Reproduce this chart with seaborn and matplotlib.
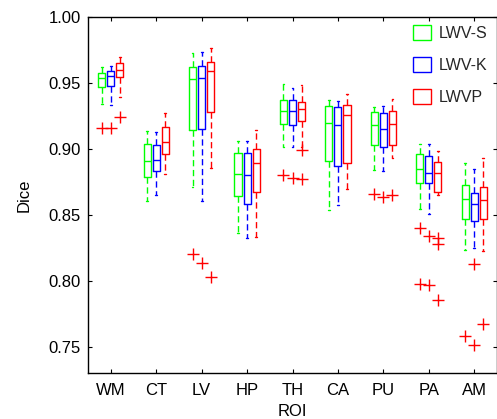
import numpy as np
import pandas as pd
import matplotlib
matplotlib.use("Agg")
import matplotlib.pyplot as plt
from matplotlib.patches import Patch
import seaborn as sns

rois = ["WM", "CT", "LV", "HP", "TH", "CA", "PU", "PA", "AM"]
methods = ["LWV-S", "LWV-K", "LWVP"]
colors = {"LWV-S": "#00ff00", "LWV-K": "#0000ff", "LWVP": "#ff0000"}

# Box summaries (whisker low, Q1, median, Q3, whisker high)
s_whislo = [0.9340, 0.8605, 0.8714, 0.8365, 0.9017, 0.8539, 0.8842, 0.8545, 0.8236]
s_q1     = [0.9470, 0.8792, 0.9146, 0.8645, 0.9191, 0.8911, 0.9032, 0.8742, 0.8471]
s_med    = [0.9542, 0.8908, 0.9530, 0.8812, 0.9292, 0.9196, 0.9184, 0.8852, 0.8620]
s_q3     = [0.9580, 0.9037, 0.9620, 0.8974, 0.9375, 0.9330, 0.9282, 0.8961, 0.8731]
s_whishi = [0.9626, 0.9138, 0.9732, 0.9060, 0.9492, 0.9375, 0.9322, 0.9042, 0.8898]
s_out = {"WM": [0.9159], "LV": [0.8208], "TH": [0.8805], "PU": [0.8658],
         "PA": [0.8405, 0.7980], "AM": [0.7584]}

k_whislo = [0.9335, 0.8650, 0.8605, 0.8327, 0.9017, 0.8580, 0.8835, 0.8509, 0.8251]
k_q1     = [0.9480, 0.8835, 0.9150, 0.8583, 0.9181, 0.8873, 0.9019, 0.8742, 0.8454]
k_med    = [0.9555, 0.8916, 0.9542, 0.8805, 0.9292, 0.9186, 0.9151, 0.8822, 0.8585]
k_q3     = [0.9590, 0.9030, 0.9631, 0.8971, 0.9375, 0.9318, 0.9275, 0.8949, 0.8668]
k_whishi = [0.9633, 0.9128, 0.9740, 0.9060, 0.9464, 0.9363, 0.9328, 0.9037, 0.8848]
k_out = {"WM": [0.9159], "LV": [0.8137], "TH": [0.8784], "PU": [0.8640],
         "PA": [0.8345, 0.7966], "AM": [0.8132, 0.7514]}

p_whislo = [0.9394, 0.8812, 0.8858, 0.8337, 0.9015, 0.8696, 0.8936, 0.8650, 0.8231]
p_q1     = [0.9545, 0.8961, 0.9282, 0.8678, 0.9214, 0.8896, 0.9032, 0.8678, 0.8473]
p_med    = [0.9600, 0.9055, 0.9593, 0.8893, 0.9305, 0.9262, 0.9191, 0.8822, 0.8615]
p_q3     = [0.9650, 0.9168, 0.9664, 0.9004, 0.9360, 0.9335, 0.9292, 0.8903, 0.8716]
p_whishi = [0.9697, 0.9277, 0.9765, 0.9143, 0.9485, 0.9416, 0.9383, 0.8989, 0.8936]
p_out = {"WM": [0.9242], "LV": [0.8031], "TH": [0.8992, 0.8774], "PU": [0.8653],
         "PA": [0.8325, 0.8280, 0.7859], "AM": [0.7675]}

# whisker reach (in IQR) per ROI so outliers fall outside, whiskers inside
whisker_reach = {"WM": 2.0, "CT": 1.5, "LV": 1.5, "HP": 1.5, "TH": 1.45,
                 "CA": 1.5, "PU": 1.2, "PA": 1.3, "AM": 1.25}

summaries = {
    "LWV-S": (s_whislo, s_q1, s_med, s_q3, s_whishi, s_out),
    "LWV-K": (k_whislo, k_q1, k_med, k_q3, k_whishi, k_out),
    "LWVP": (p_whislo, p_q1, p_med, p_q3, p_whishi, p_out),
}

# Build 17-value samples whose quartiles equal the read summaries
rows = []
for m in methods:
    lo, q1, med, q3, hi, outs = summaries[m]
    for i, r in enumerate(rois):
        o = outs.get(r, [])
        k = len(o)
        vals = list(o) + [lo[i]] + [q1[i]] * (4 - k) + [med[i]] * 4 + [q3[i]] * 7 + [hi[i]]
        for v in vals:
            rows.append({"ROI": r, "Method": m, "Dice": v})
df = pd.DataFrame(rows)

sns.set_theme(style="white")
plt.rcParams["font.family"] = ["Liberation Sans", "DejaVu Sans"]

fig = plt.figure(figsize=(4.97, 4.19), dpi=100)
ax = fig.add_axes([88 / 497, 1 - 373.3 / 419, 409 / 497, (373.3 - 17.3) / 419])

for r in rois:
    sub = df[df["ROI"] == r]
    sns.boxplot(data=sub, x="ROI", y="Dice", hue="Method", order=rois,
                hue_order=methods, palette=colors, fill=False, width=0.6,
                gap=0.22, whis=whisker_reach[r], linewidth=1.0,
                capwidths=0.04, legend=False, ax=ax,
                whiskerprops=dict(linestyle=(0, (4.5, 2.6)), linewidth=1.0),
                capprops=dict(linewidth=1.0),
                medianprops=dict(linewidth=1.0),
                flierprops=dict(marker="+", markeredgecolor="#ff0000",
                                markerfacecolor="none", markersize=9,
                                markeredgewidth=1.0))

ax.set_xlim(-0.5, len(rois) - 0.5)
ax.set_ylim(0.73, 1.00)
ax.set_yticks([0.75, 0.80, 0.85, 0.90, 0.95, 1.00])
ax.set_yticklabels(["0.75", "0.80", "0.85", "0.90", "0.95", "1.00"])
ax.set_xlabel("ROI", fontsize=12, labelpad=4, color="black")
ax.set_ylabel("Dice", fontsize=12, labelpad=12, color="black")
ax.tick_params(axis="both", which="both", direction="in", length=3, width=0.8,
               labelsize=12, top=True, right=True, bottom=True, left=True,
               colors="black")
ax.tick_params(axis="x", pad=7)
ax.tick_params(axis="y", pad=5)
for sp in ax.spines.values():
    sp.set_visible(True)
    sp.set_color("black")
    sp.set_linewidth(1.0)
ax.grid(False)

handles = [Patch(facecolor="none", edgecolor=colors[m], linewidth=1.0, label=m)
           for m in methods]
fig.legend(handles=handles, loc="upper left",
           bbox_to_anchor=(413 / 497, 1 - 25 / 419), frameon=False,
           fontsize=11.5, handlelength=1.1, handleheight=1.1,
           handletextpad=0.5, labelspacing=1.0, borderpad=0,
           borderaxespad=0)

fig.savefig("out.png", dpi=100)
